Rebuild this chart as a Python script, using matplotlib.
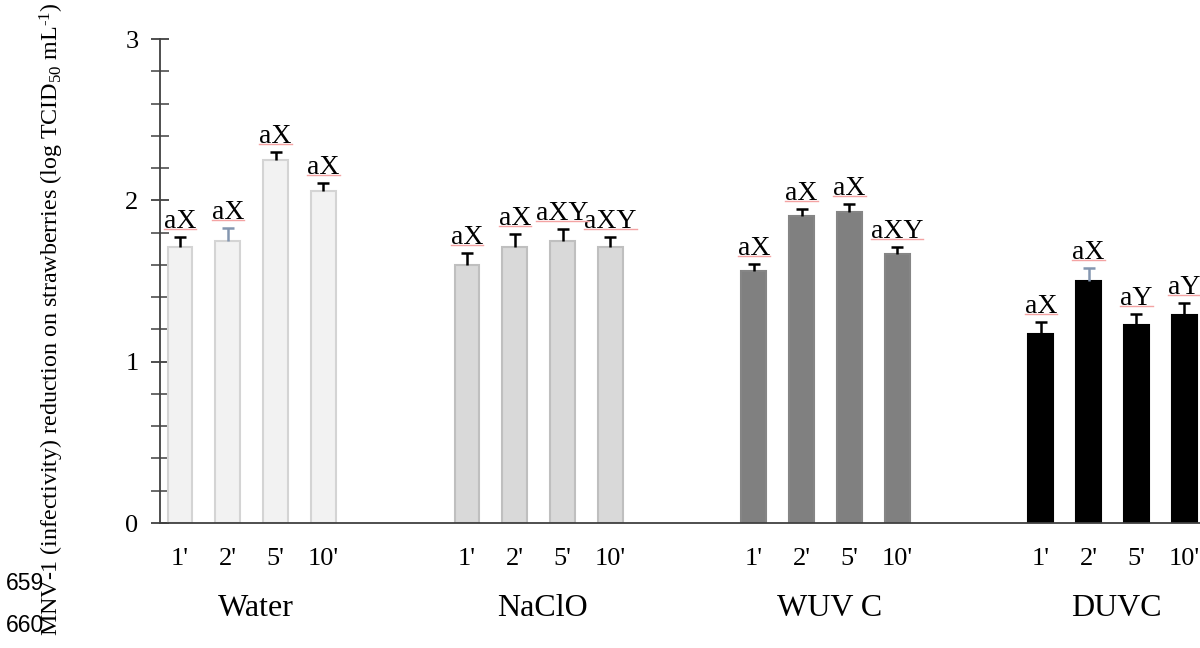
import matplotlib
matplotlib.use("Agg")
import matplotlib.pyplot as plt
from matplotlib.lines import Line2D
from matplotlib.ticker import MultipleLocator

plt.rcParams['font.family'] = ['Liberation Serif', 'DejaVu Serif']
plt.rcParams['mathtext.fontset'] = 'custom'
plt.rcParams['mathtext.rm'] = 'Liberation Serif'
plt.rcParams['mathtext.it'] = 'Liberation Serif:italic'

# --- data ---
treatments = ["Water", "NaClO", "WUV C", "DUVC"]
times = ["1'", "2'", "5'", "10'"]

water = [1.71, 1.75, 2.25, 2.06]
naclo = [1.60, 1.71, 1.75, 1.71]
wuvc = [1.56, 1.90, 1.93, 1.67]
duvc = [1.17, 1.50, 1.23, 1.29]

water_err = [0.06, 0.08, 0.05, 0.045]
naclo_err = [0.075, 0.08, 0.07, 0.06]
wuvc_err = [0.046, 0.046, 0.048, 0.041]
duvc_err = [0.077, 0.083, 0.066, 0.076]

water_lab = ["aX", "aX", "aX", "aX"]
naclo_lab = ["aX", "aX", "aXY", "aXY"]
wuvc_lab = ["aX", "aX", "aX", "aXY"]
duvc_lab = ["aX", "aX", "aY", "aY"]

values = [water, naclo, wuvc, duvc]
errors = [water_err, naclo_err, wuvc_err, duvc_err]
letters = [water_lab, naclo_lab, wuvc_lab, duvc_lab]

fills = ["#f2f2f2", "#d9d9d9", "#808080", "#000000"]
edges = ["#d4d4d4", "#bfbfbf", "#858585", "#000000"]
# two error bars are drawn in a bluish grey in the original
err_cols = [["k", "#8496b0", "k", "k"],
            ["k", "k", "k", "k"],
            ["k", "k", "k", "k"],
            ["k", "#8496b0", "k", "k"]]

fig = plt.figure(figsize=(12, 6.48), dpi=100)
ax = fig.add_axes([0.1333, 0.1929, 0.8667, 0.7469])

gap = 6
pos_all = []
lab_all = []
labels = []
for g in range(len(treatments)):
    pos = [g * gap + i for i in range(len(times))]
    ax.bar(pos, values[g], width=0.52, color=fills[g], edgecolor=edges[g], linewidth=1.5, zorder=2)
    for i in range(len(times)):
        eb = ax.errorbar(pos[i], values[g][i], yerr=[[0], [errors[g][i]]], fmt='none',
                         ecolor=err_cols[g][i], elinewidth=1.8, capsize=4, capthick=1.8, zorder=3)
        eb[1][0].set_visible(False)  # only the upper cap
        t = ax.annotate(letters[g][i], (pos[i], values[g][i] + errors[g][i]),
                        xytext=(0, 6.5), textcoords='offset points',
                        ha='center', va='baseline', fontsize=20, zorder=4)
        labels.append(t)
    pos_all += pos
    lab_all += times
    ax.text((pos[0] + pos[-1]) / 2 + 0.08, -0.176, treatments[g], transform=ax.get_xaxis_transform(),
            ha='center', va='center', fontsize=23)

ax.set_xlim(-0.42, 21.33)
ax.set_ylim(0, 3)
ax.set_xticks(pos_all)
ax.set_xticklabels(lab_all, fontsize=19)
ax.tick_params(axis='x', length=0, pad=18)
ax.yaxis.set_major_locator(MultipleLocator(1))
ax.yaxis.set_minor_locator(MultipleLocator(0.2))
ax.tick_params(axis='y', which='major', direction='inout', length=13, width=1.3,
               colors='#404040', labelcolor='k', labelsize=19, pad=9)
ax.tick_params(axis='y', which='minor', direction='inout', length=13, width=1.1, colors='#404040')

for s in ['top', 'right']:
    ax.spines[s].set_visible(False)
for s in ['left', 'bottom']:
    ax.spines[s].set_color('#404040')
    ax.spines[s].set_linewidth(1.3)

fig.text(0.043, 0.508,
         r"MNV-1 (infectivity) reduction on strawberries (log TCID$_{50}$ mL$^{\text{-}1}$)",
         rotation=90, ha='center', va='center', fontsize=17.3)

# manuscript line numbers
fig.text(0.005, 0.099, "659", family='Liberation Sans', fontsize=16.5, ha='left', va='center')
fig.text(0.005, 0.035, "660", family='Liberation Sans', fontsize=16.5, ha='left', va='center')

# pink spell-check underline below the letters
fig.canvas.draw()
r = fig.canvas.get_renderer()
for t in labels:
    bb = t.get_window_extent(r)
    yb = bb.y0 + 0.2 * bb.height
    fig.add_artist(Line2D([bb.x0, bb.x1], [yb, yb], transform=None, color='#f4a3a3', linewidth=1.0))

fig.savefig("out.png", dpi=100)
